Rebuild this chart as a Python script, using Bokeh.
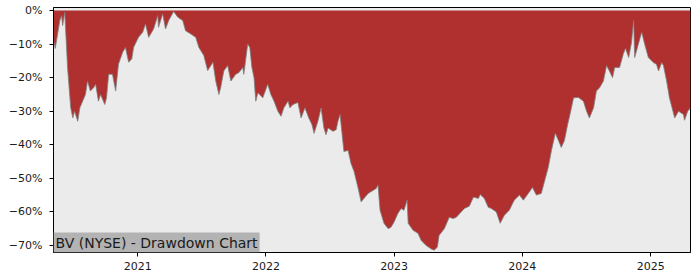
import pandas as pd
from bokeh.plotting import figure
from bokeh.models import FixedTicker, CustomJSTickFormatter, DatetimeTickFormatter, Label, Range1d
from bokeh.embed import file_html
from bokeh.resources import INLINE

dates = [
    "2020-05-06", "2020-05-11", "2020-05-24", "2020-05-29", "2020-06-01", "2020-06-07",
    "2020-06-15", "2020-06-24", "2020-06-30", "2020-07-05", "2020-07-14", "2020-07-20",
    "2020-07-28", "2020-08-05", "2020-08-11", "2020-08-19", "2020-08-28", "2020-09-03",
    "2020-09-11", "2020-09-17", "2020-09-29", "2020-10-04", "2020-10-10", "2020-10-21",
    "2020-10-30", "2020-11-07", "2020-11-19", "2020-11-27", "2020-12-06", "2020-12-15",
    "2020-12-20", "2021-01-03", "2021-01-15", "2021-01-23", "2021-02-01", "2021-02-15",
    "2021-02-27", "2021-03-01", "2021-03-13", "2021-03-21", "2021-03-30", "2021-04-13",
    "2021-04-25", "2021-05-09", "2021-05-17", "2021-06-01", "2021-06-15", "2021-06-24",
    "2021-07-08", "2021-07-19", "2021-08-03", "2021-08-11", "2021-08-20", "2021-08-25",
    "2021-09-03", "2021-09-14", "2021-09-23", "2021-10-07", "2021-10-16", "2021-10-27",
    "2021-10-30", "2021-11-10", "2021-11-16", "2021-11-22", "2021-11-28", "2021-12-03",
    "2021-12-09", "2021-12-23", "2022-01-06", "2022-01-15", "2022-01-24", "2022-02-04",
    "2022-02-13", "2022-02-21", "2022-03-05", "2022-03-10", "2022-03-19", "2022-04-02",
    "2022-04-11", "2022-04-22", "2022-05-03", "2022-05-12", "2022-05-18", "2022-05-29",
    "2022-06-07", "2022-06-15", "2022-06-21", "2022-06-27", "2022-07-11", "2022-07-20",
    "2022-07-25", "2022-07-31", "2022-08-08", "2022-08-11", "2022-08-23", "2022-08-31",
    "2022-09-09", "2022-09-20", "2022-09-29", "2022-10-07", "2022-10-19", "2022-11-02",
    "2022-11-11", "2022-11-16", "2022-11-22", "2022-12-03", "2022-12-15", "2022-12-23",
    "2023-01-01", "2023-01-12", "2023-01-21", "2023-01-29", "2023-02-07", "2023-02-10",
    "2023-02-24", "2023-03-10", "2023-03-19", "2023-04-02", "2023-04-16", "2023-04-25",
    "2023-05-04", "2023-05-09", "2023-05-24", "2023-06-07", "2023-06-18", "2023-06-27",
    "2023-07-11", "2023-07-20", "2023-08-03", "2023-08-15", "2023-08-29", "2023-09-03",
    "2023-09-15", "2023-09-26", "2023-10-05", "2023-10-19", "2023-10-30", "2023-11-11",
    "2023-11-25", "2023-12-09", "2023-12-24", "2024-01-04", "2024-01-18", "2024-01-30",
    "2024-02-10", "2024-02-24", "2024-03-04", "2024-03-15", "2024-03-24", "2024-04-04",
    "2024-04-13", "2024-04-21", "2024-04-30", "2024-05-09", "2024-05-17", "2024-05-26",
    "2024-06-09", "2024-06-23", "2024-07-02", "2024-07-10", "2024-07-22", "2024-07-30",
    "2024-08-08", "2024-08-19", "2024-08-28", "2024-09-05", "2024-09-14", "2024-09-20",
    "2024-10-04", "2024-10-15", "2024-10-21", "2024-10-30", "2024-11-07", "2024-11-13",
    "2024-11-16", "2024-11-27", "2024-12-06", "2024-12-14", "2024-12-25", "2025-01-08",
    "2025-01-17", "2025-01-23", "2025-02-01", "2025-02-06", "2025-02-15", "2025-02-23",
    "2025-03-10", "2025-03-21", "2025-04-04", "2025-04-07", "2025-04-16", "2025-04-24",
]

drawdown_pct = [
    -8.9, -11.3, -3.0, -1.5, -4.5, -0.5,
    -17.0, -29.0, -32.0, -30.0, -33.0, -29.0,
    -27.0, -25.0, -21.0, -24.0, -23.0, -22.0,
    -27.0, -25.0, -28.0, -26.0, -19.0, -19.0,
    -24.0, -16.0, -12.4, -11.0, -15.4, -14.4,
    -11.0, -8.0, -6.5, -4.0, -8.0, -5.5,
    -1.5, -5.0, -1.0, -5.5, -3.0, -0.3,
    -2.0, -3.0, -6.0, -7.0, -8.0, -11.0,
    -13.4, -17.9, -15.4, -21.0, -25.0, -23.0,
    -18.0, -16.4, -21.0, -19.0, -18.5, -17.0,
    -19.0, -10.0, -11.0, -17.0, -20.0, -27.0,
    -24.5, -26.0, -22.0, -25.0, -27.0, -30.0,
    -31.5, -29.0, -27.0, -29.0, -28.0, -27.4,
    -32.0, -29.0, -32.0, -34.0, -36.6, -33.0,
    -29.0, -35.0, -37.0, -35.0, -36.0, -35.5,
    -33.0, -31.0, -39.0, -42.0, -41.7, -45.5,
    -48.0, -52.7, -57.0, -56.0, -54.5, -53.6,
    -53.0, -52.0, -59.5, -63.4, -65.0, -64.6,
    -63.0, -60.4, -59.0, -59.5, -56.5, -63.4,
    -65.5, -66.4, -68.5, -70.0, -71.0, -71.4,
    -70.5, -67.0, -65.0, -61.6, -62.0, -61.6,
    -60.0, -59.0, -58.3, -55.6, -56.0, -54.8,
    -56.0, -58.6, -59.0, -60.0, -63.4, -61.0,
    -59.5, -56.5, -55.0, -56.5, -54.5, -52.7,
    -55.0, -54.5, -51.0, -46.7, -41.7, -36.6,
    -38.7, -40.8, -38.7, -34.0, -30.4, -26.0,
    -25.9, -27.0, -30.0, -32.0, -29.0, -24.0,
    -23.0, -21.0, -16.4, -18.0, -20.0, -17.0,
    -17.0, -12.8, -11.3, -14.0, -9.5, -3.0,
    -14.0, -9.8, -6.5, -9.8, -14.0, -15.5,
    -16.0, -18.0, -15.5, -16.4, -21.0, -26.0,
    -32.0, -30.0, -31.0, -32.7, -30.0, -29.0,
]

year_ticks = [2021, 2022, 2023, 2024, 2025]
pct_ticks = [0, -10, -20, -30, -40, -50, -60, -70]
title_text = "BV (NYSE) - Drawdown Chart"

x = pd.to_datetime(dates)

p = figure(
    width=700, height=280, x_axis_type="datetime",
    output_backend="svg", toolbar_location=None,
    x_range=Range1d(x[0].to_pydatetime(), x[-1].to_pydatetime()),
    y_range=Range1d(-72.1, 0.9),
    min_border_left=53, min_border_right=10, min_border_top=7, min_border_bottom=28,
    background_fill_color="#ebebeb", border_fill_color="white",
)
p.outline_line_color = "black"
p.outline_line_width = 1

p.varea(x=x, y1=0, y2=drawdown_pct, fill_color="#b03030")
p.line(x, drawdown_pct, line_color="#808080", line_width=1, line_alpha=0.8)

p.grid.visible = False

p.xaxis.ticker = FixedTicker(ticks=[pd.Timestamp(f"{y}-01-01").value / 1e6 for y in year_ticks])
p.xaxis.formatter = DatetimeTickFormatter(
    years="%Y", months="%Y", days="%Y", hours="%Y", minutes="%Y",
    seconds="%Y", milliseconds="%Y", microseconds="%Y",
)
p.yaxis.ticker = FixedTicker(ticks=pct_ticks)
p.yaxis.formatter = CustomJSTickFormatter(
    code="return (tick < 0 ? '\\u2212' : '') + Math.abs(tick) + '%';"
)

for ax in (p.xaxis[0], p.yaxis[0]):
    ax.axis_line_color = "black"
    ax.major_tick_line_color = "black"
    ax.major_tick_out = 4
    ax.major_tick_in = 0
    ax.minor_tick_line_color = None
    ax.major_label_text_font = "DejaVu Sans"
    ax.major_label_text_font_size = "11px"
    ax.major_label_text_color = "#1a1a1a"
p.xaxis.major_label_standoff = 5
p.yaxis.major_label_standoff = 7

lbl = Label(
    x=0, y=0, x_units="screen", y_units="screen", text=title_text,
    text_font="DejaVu Sans", text_font_size="14px", text_color="#1a1a1a",
    background_fill_color="#b3b3b3", padding=2,
)
p.add_layout(lbl)

open("out.html", "w").write(file_html(p, INLINE))
